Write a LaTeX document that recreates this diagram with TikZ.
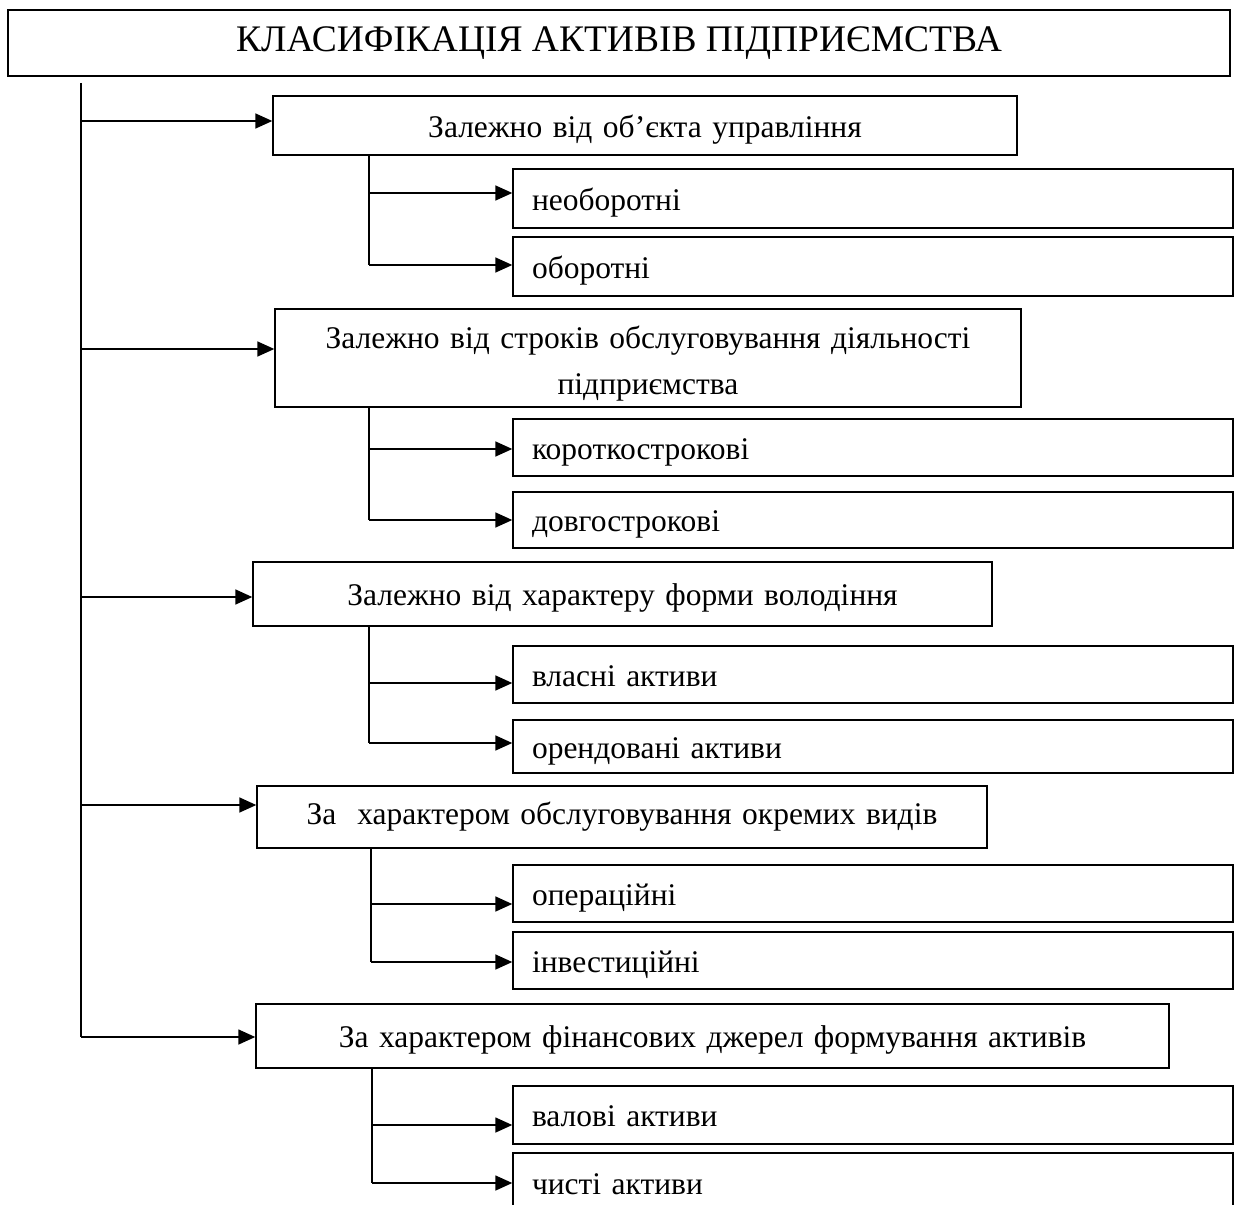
\documentclass[tikz,border=0pt]{standalone}
\usepackage{fontspec}
\setmainfont{Liberation Serif}
\usetikzlibrary{arrows.meta}
\begin{document}
\begin{tikzpicture}[x=1pt,y=-1pt,
  box/.style={draw, line width=1.4pt, rectangle, inner ysep=0pt, inner xsep=9pt, font=\fontsize{31.5}{46}\selectfont},
  tx/.style={text height=31pt, text depth=8pt},
  mainbox/.style={box, align=center},
  subbox/.style={box, tx, inner xsep=19pt, minimum width=720pt, text width=682pt, align=left},
  ln/.style={line width=1.6pt},
  arr/.style={line width=1.6pt, -{Triangle[length=17pt,width=15pt]}}]
\clip (0,0) rectangle (1236,1204);
\useasboundingbox (0,0) rectangle (1236,1204);
% title
\node[box, minimum width=1222pt, minimum height=66pt, font=\fontsize{37.5}{40}\selectfont] (title) at (619,43) {КЛАСИФІКАЦІЯ АКТИВІВ ПІДПРИЄМСТВА};
% main boxes
\node[mainbox, tx, minimum width=744pt, minimum height=59pt, text width=726pt] (b1) at (645,125.5) {Залежно від об’єкта управління};
\node[mainbox, minimum width=746pt, minimum height=98pt, text width=728pt] (b2) at (648,358) {\rule{0pt}{33pt}Залежно від строків обслуговування діяльності\\підприємства};
\node[mainbox, tx, minimum width=739pt, minimum height=64pt, text width=721pt] (b3) at (622.5,594) {Залежно від характеру форми володіння};
\node[mainbox, minimum width=730pt, minimum height=62pt, text width=712pt] (b4) at (622,817) {За\ \ характером обслуговування окремих видів};
\node[mainbox, tx, minimum width=913pt, minimum height=64pt, text width=895pt] (b5) at (712.5,1036) {За характером фінансових джерел формування активів};
% sub boxes
\node[subbox, minimum height=59pt] (s11) at (873,198.5) {необоротні};
\node[subbox, minimum height=59pt] (s12) at (873,266.5) {оборотні};
\node[subbox, minimum height=57pt] (s21) at (873,447.5) {короткострокові};
\node[subbox, minimum height=56pt] (s22) at (873,520) {довгострокові};
\node[subbox, minimum height=57pt] (s31) at (873,674.5) {власні активи};
\node[subbox, minimum height=53pt] (s32) at (873,746.5) {орендовані активи};
\node[subbox, minimum height=57pt] (s41) at (873,893.5) {операційні};
\node[subbox, minimum height=57pt] (s42) at (873,960.5) {інвестиційні};
\node[subbox, minimum height=58pt] (s51) at (873,1115) {валові активи};
\node[subbox, minimum height=59pt] (s52) at (873,1182.5) {чисті активи};
% trunk
\coordinate (t0) at (81,83);
\coordinate (a1) at (81,121);
\coordinate (a2) at (81,349);
\coordinate (a3) at (81,597);
\coordinate (a4) at (81,805);
\coordinate (a5) at (81,1037);
\draw[ln] (t0) -- (a5);
\draw[arr] (a1) -- (a1 -| b1.west);
\draw[arr] (a2) -- (a2 -| b2.west);
\draw[arr] (a3) -- (a3 -| b3.west);
\draw[arr] (a4) -- (a4 -| b4.west);
\draw[arr] (a5) -- (a5 -| b5.west);
% branch points
\coordinate (c11) at (369,193);
\coordinate (c12) at (369,265);
\coordinate (c21) at (369,449);
\coordinate (c22) at (369,520);
\coordinate (c31) at (369,683);
\coordinate (c32) at (369,743);
\coordinate (c41) at (371,904);
\coordinate (c42) at (371,962);
\coordinate (c51) at (372,1125);
\coordinate (c52) at (372,1183);
\draw[ln] (b1.south -| c11) -- (c12);
\draw[ln] (b2.south -| c21) -- (c22);
\draw[ln] (b3.south -| c31) -- (c32);
\draw[ln] (b4.south -| c41) -- (c42);
\draw[ln] (b5.south -| c51) -- (c52);
\draw[arr] (c11) -- (c11 -| s11.west);
\draw[arr] (c12) -- (c12 -| s12.west);
\draw[arr] (c21) -- (c21 -| s21.west);
\draw[arr] (c22) -- (c22 -| s22.west);
\draw[arr] (c31) -- (c31 -| s31.west);
\draw[arr] (c32) -- (c32 -| s32.west);
\draw[arr] (c41) -- (c41 -| s41.west);
\draw[arr] (c42) -- (c42 -| s42.west);
\draw[arr] (c51) -- (c51 -| s51.west);
\draw[arr] (c52) -- (c52 -| s52.west);
\end{tikzpicture}
\end{document}
